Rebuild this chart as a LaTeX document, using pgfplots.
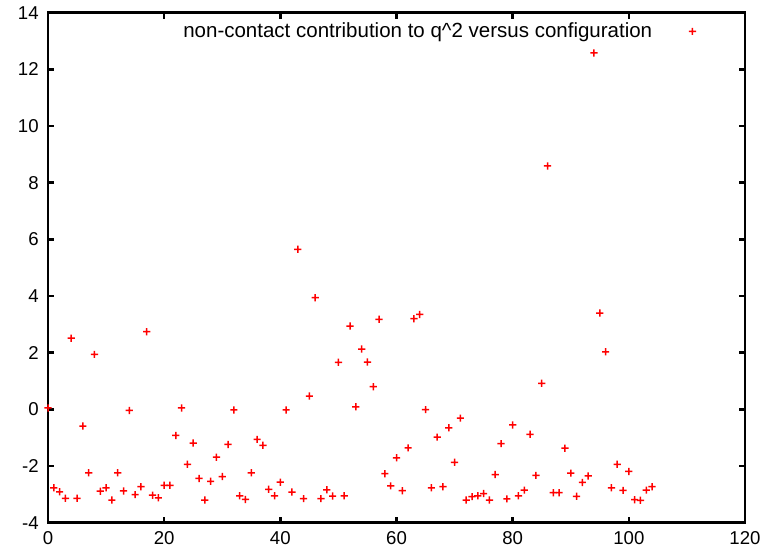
\documentclass[border=0pt]{standalone}
\usepackage{fontspec}
\setmainfont{Liberation Sans}
\usepackage{pgfplots}
\pgfplotsset{compat=1.18}
\pgfdeclareplotmark{fatplus}{%
  \pgfpathrectangle{\pgfpoint{-3.6pt}{-0.75pt}}{\pgfpoint{7.2pt}{1.5pt}}%
  \pgfpathrectangle{\pgfpoint{-0.75pt}{-3.6pt}}{\pgfpoint{1.5pt}{7.2pt}}%
  \pgfusepathqfill}
\pgfplotstableread{
x y
0 0.05
1 -2.77
2 -2.91
3 -3.14
4 2.51
5 -3.14
6 -0.59
7 -2.24
8 1.94
9 -2.89
10 -2.77
11 -3.20
12 -2.24
13 -2.88
14 -0.04
15 -3.01
16 -2.73
17 2.74
18 -3.03
19 -3.12
20 -2.68
21 -2.68
22 -0.92
23 0.05
24 -1.94
25 -1.19
26 -2.44
27 -3.20
28 -2.54
29 -1.69
30 -2.37
31 -1.24
32 -0.02
33 -3.05
34 -3.18
35 -2.24
36 -1.06
37 -1.27
38 -2.82
39 -3.05
40 -2.57
41 -0.02
42 -2.92
43 5.65
44 -3.15
45 0.47
46 3.94
47 -3.15
48 -2.84
49 -3.06
50 1.66
51 -3.05
52 2.94
53 0.09
54 2.13
55 1.67
56 0.80
57 3.18
58 -2.27
59 -2.70
60 -1.71
61 -2.87
62 -1.36
63 3.20
64 3.35
65 -0.01
66 -2.77
67 -0.98
68 -2.73
69 -0.65
70 -1.87
71 -0.31
72 -3.20
73 -3.08
74 -3.05
75 -2.97
76 -3.20
77 -2.30
78 -1.21
79 -3.16
80 -0.55
81 -3.05
82 -2.85
83 -0.88
84 -2.33
85 0.92
86 8.59
87 -2.94
88 -2.94
89 -1.37
90 -2.25
91 -3.07
92 -2.58
93 -2.35
94 12.58
95 3.40
96 2.03
97 -2.77
98 -1.94
99 -2.86
100 -2.19
101 -3.19
102 -3.21
103 -2.85
104 -2.73
}\datatable
\begin{document}
\fontsize{18.6}{21}\selectfont
\begin{tikzpicture}
\useasboundingbox (-48pt,-30.3pt) rectangle (718pt,522.7pt);
\begin{axis}[
  scale only axis,
  width=697pt, height=510pt,
  xmin=0, xmax=120, ymin=-4, ymax=14,
  xtick={0,20,...,120}, ytick={-4,-2,...,14},
  minor tick num=0,
  tick align=inside,
  major tick length=6pt,
  axis line style={line width=2.5pt},
  every tick/.style={black, line width=2.5pt},
  /pgf/number format/assume math mode=true,
  tick label style={font=\fontsize{18.6}{21}\selectfont},
  xticklabel style={yshift=-2pt},
  yticklabel style={xshift=-3pt},
  clip=false,
  legend style={draw=none, fill=none, at={(rel axis cs:0.93,0.985)}, anchor=north east,
    font=\fontsize{20.5}{23}\selectfont, inner sep=0pt},
  legend cell align=right,
  legend plot pos=right,
  legend image code/.code={\path (0pt,0pt); \draw[#1] plot coordinates {(38pt,0pt)};},
]
\addplot[only marks, color=red, fill=red, draw=red, mark=fatplus,
  mark options={fill=red}] table[x=x,y=y] {\datatable};
\addlegendentry{non-contact contribution to q\textasciicircum 2 versus configuration}
\end{axis}
\end{tikzpicture}
\end{document}
